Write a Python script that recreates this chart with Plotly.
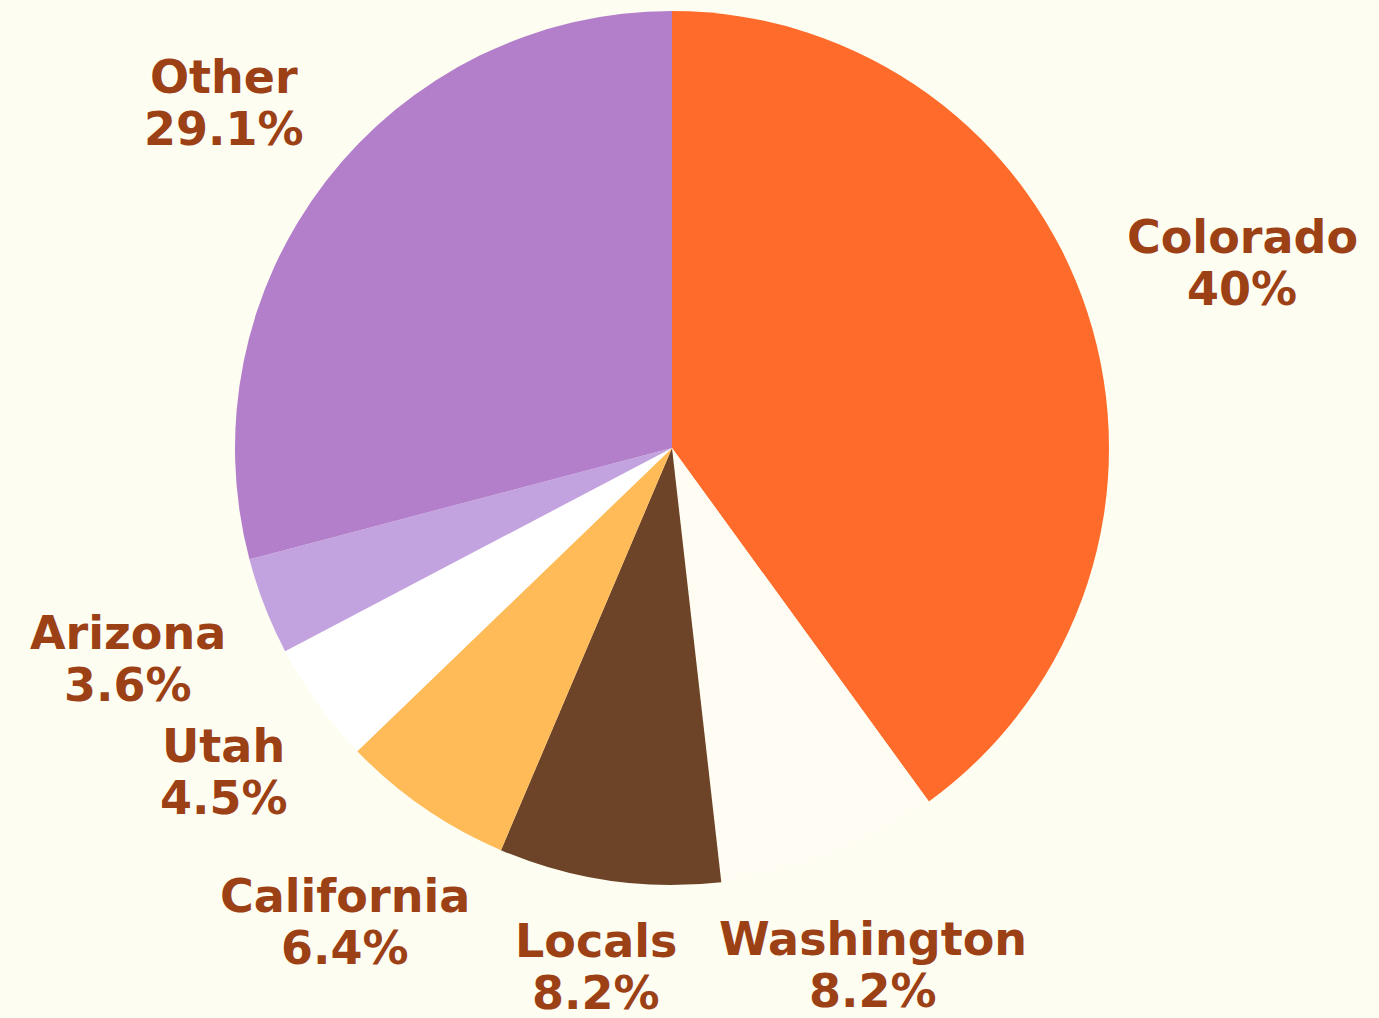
import math
import plotly.graph_objects as go

# slice data, clockwise from 12 o'clock
states = ["Colorado", "Washington", "Locals", "California", "Utah", "Arizona", "Other"]
shares = [40, 8.2, 8.2, 6.4, 4.5, 3.6, 29.1]
pct_labels = ["40%", "8.2%", "8.2%", "6.4%", "4.5%", "3.6%", "29.1%"]
colors = ["#FE6B2A", "#FFFDF3", "#6D4427", "#FFBB57", "#FFFFFF", "#C2A3E0", "#B37FCB"]

W, H = 1379, 1018
BG = "#FEFDF1"
TXT = "#9C4016"
FONT = dict(family="DejaVu Sans", size=46, color=TXT, weight="bold")

CX, CY, R = 672, 448, 437   # pie centre / radius in px
GAP = 39                    # clear space between pie rim and label box
PITCH = 52                  # line pitch of the two-line labels

# rough DejaVu Sans Bold advance widths (em)
ADV = {'a': .675, 'b': .716, 'c': .593, 'd': .716, 'e': .678, 'f': .435, 'g': .716,
       'h': .712, 'i': .343, 'l': .343, 'n': .712, 'o': .687, 'r': .493, 's': .595,
       't': .478, 'z': .582, 'C': .734, 'O': .850, 'L': .637, 'W': 1.103, 'A': .774,
       'U': .812, '%': 1.002, '.': .380}


def text_w(s):
    return sum(ADV.get(ch, .696) for ch in s) * FONT["size"]


fig = go.Figure(go.Pie(
    labels=states, values=shares, sort=False, direction="clockwise", rotation=0,
    marker=dict(colors=colors, line=dict(width=0)),
    textinfo="none", hoverinfo="label+percent", showlegend=False,
    domain=dict(x=[(CX - R) / W, (CX + R) / W],
                y=[(H - CY - R) / H, (H - CY + R) / H]),
))

# labels sit on the slice's mid-angle ray, pushed out until the box clears the rim
total = sum(shares)
cum = 0
for name, val, pct in zip(states, shares, pct_labels):
    mid = (cum + val / 2) / total * 2 * math.pi
    cum += val
    ux, uy = math.sin(mid), -math.cos(mid)   # screen coords, y down
    hw = max(text_w(name), text_w(pct)) / 2
    hh = 43
    t = 0
    while True:
        cx, cy = t * ux, t * uy
        dx = max(abs(cx) - hw, 0)
        dy = max(abs(cy) - hh, 0)
        if math.hypot(dx, dy) >= R + GAP:
            break
        t += 0.5
    px, py = CX + t * ux, CY + t * uy
    for txt, off in ((name, -PITCH / 2), (pct, PITCH / 2)):
        fig.add_annotation(x=px / W, y=1 - (py + off) / H, xref="paper", yref="paper",
                           text=txt, showarrow=False, font=FONT,
                           xanchor="center", yanchor="middle")

fig.update_layout(width=W, height=H, margin=dict(l=0, r=0, t=0, b=0),
                  paper_bgcolor=BG, plot_bgcolor=BG)
fig.write_html("out.html", config={"displayModeBar": False},
               post_script="document.body.style.margin='0';document.body.style.background='%s';" % BG)
